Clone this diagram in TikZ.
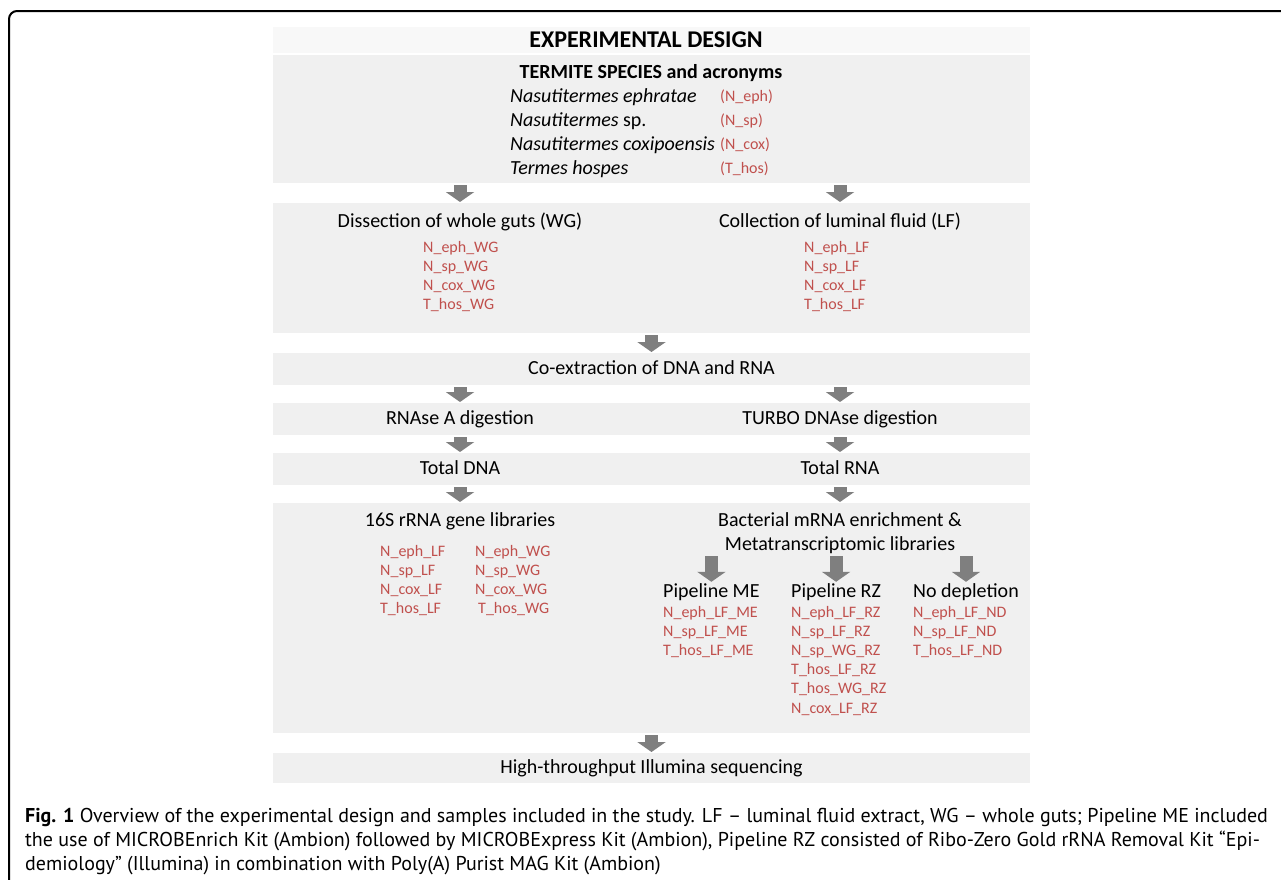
\documentclass[tikz,border=0pt]{standalone}
\usepackage{fontspec}
\setmainfont{Carlito}
\newfontfamily\capfont{PT Sans}
\usetikzlibrary{arrows.meta}
\definecolor{boxgrey}{HTML}{F0F0F0}
\definecolor{bandgrey}{HTML}{F8F8F8}
\definecolor{arrowgrey}{HTML}{7F7F7F}
\definecolor{samplered}{HTML}{C0504D}
\begin{document}
\begin{tikzpicture}[x=1pt,y=-1pt,line join=round,
	band/.style={fill=boxgrey,inner sep=0pt,minimum width=757pt,minimum height=#1,anchor=north},
	steptext/.style={font=\fontsize{20}{24}\selectfont,inner sep=0pt,text height=14pt,text depth=4pt},
	sample/.style={font=\fontsize{16}{19}\selectfont,text=samplered,inner sep=0pt,anchor=west,text height=11pt,text depth=3pt},
	flow/.style={draw=arrowgrey,line width=13pt,-{Triangle[width=28pt,length=10pt]},shorten <=2pt,shorten >=1pt},
	captext/.style={font=\capfont\fontsize{20}{24}\selectfont,inner sep=0pt,anchor=west,text height=14pt,text depth=5pt}]
	\useasboundingbox (0,0) rectangle (1281,879);
	\draw [line width=2pt,rounded corners=8pt] (1282,11) -- (9,11) -- (9,880);
	\node[band=26pt,fill=bandgrey] (titleband) at (651.5,27) {};
	\node[band=128pt] (species) at (651.5,55) {};
	\node[band=130pt] (guts) at (651.5,203) {};
	\node[band=32pt] (coext) at (651.5,353) {};
	\node[band=32pt] (digest) at (651.5,403) {};
	\node[band=32pt] (total) at (651.5,453) {};
	\node[band=230pt] (libs) at (651.5,503) {};
	\node[band=30pt] (seq) at (651.5,753) {};
	\coordinate (lcol) at (460,0);
	\coordinate (rcol) at (840,0);
	\coordinate (mcol) at (651.5,0);
	\node[inner sep=0pt,font=\bfseries\fontsize{24}{28}\selectfont] (title) at (646,40) {EXPERIMENTAL DESIGN};
	\node[steptext,font=\bfseries\fontsize{20}{24}\selectfont] (termites) at (651,73) {TERMITE SPECIES and acronyms};
	\foreach \nm/\ac [count=\i] in {{\textit{Nasutitermes ephratae}}/N\_eph,{\textit{Nasutitermes} sp.}/N\_sp,{\textit{Nasutitermes coxipoensis}}/N\_cox,{\textit{Termes hospes}}/T\_hos}{
		\node[steptext,anchor=west] (sp\i) at (510,{97+24*(\i-1)}) {\nm};
		\node[sample] (acr\i) at (720,{97+24*(\i-1)}) {(\ac)};
	}
	\draw [flow] (species.south -| lcol) -- (guts.north -| lcol);
	\draw [flow] (species.south -| rcol) -- (guts.north -| rcol);
	\node[steptext] (dissect) at (460,222) {Dissection of whole guts (WG)};
	\node[steptext] (collect) at (840,222) {Collection of luminal fluid (LF)};
	\foreach \s [count=\i] in {N\_eph,N\_sp,N\_cox,T\_hos}{
		\node[sample] (wg\i) at (423,{248+19.3*(\i-1)}) {\s\_WG};
		\node[sample] (lf\i) at (804,{248+19.3*(\i-1)}) {\s\_LF};
	}
	\draw [flow] (guts.south -| mcol) -- (coext.north -| mcol);
	\node[steptext] (coextract) at (651.5,369) {Co-extraction of DNA and RNA};
	\draw [flow] (coext.south -| lcol) -- (digest.north -| lcol);
	\draw [flow] (coext.south -| rcol) -- (digest.north -| rcol);
	\node[steptext] (rnase) at (460,419) {RNAse A digestion};
	\node[steptext] (turbo) at (840,419) {TURBO DNAse digestion};
	\draw [flow] (digest.south -| lcol) -- (total.north -| lcol);
	\draw [flow] (digest.south -| rcol) -- (total.north -| rcol);
	\node[steptext] (totaldna) at (460,469) {Total DNA};
	\node[steptext] (totalrna) at (840,469) {Total RNA};
	\draw [flow] (total.south -| lcol) -- (libs.north -| lcol);
	\draw [flow] (total.south -| rcol) -- (libs.north -| rcol);
	\node[steptext] (dnalib) at (460,521) {16S rRNA gene libraries};
	\node[steptext] (rnalib1) at (840,521) {Bacterial mRNA enrichment \&};
	\node[steptext] (rnalib2) at (840,545) {Metatranscriptomic libraries};
	\foreach \s/\dx [count=\i] in {N\_eph/0,N\_sp/0,N\_cox/0,T\_hos/3}{
		\node[sample] (dlf\i) at (380,{552+19.3*(\i-1)}) {\s\_LF};
		\node[sample] (dwg\i) at (475+\dx,{552+19.3*(\i-1)}) {\s\_WG};
	}
	\node[steptext,anchor=west] (pme) at (663,592) {Pipeline ME};
	\node[steptext,anchor=west] (prz) at (791,592) {Pipeline RZ};
	\node[steptext,anchor=west] (pnd) at (913,592) {No depletion};
	\draw [flow] (rnalib2.south -| pme.north) -- (pme.north);
	\draw [flow] (rnalib2.south -| prz.north) -- (prz.north);
	\draw [flow] (rnalib2.south -| pnd.north) -- (pnd.north);
	\foreach \s [count=\i] in {N\_eph,N\_sp,T\_hos}{
		\node[sample] (me\i) at (663,{613+19.2*(\i-1)}) {\s\_LF\_ME};
		\node[sample] (nd\i) at (913,{613+19.2*(\i-1)}) {\s\_LF\_ND};
	}
	\foreach \s [count=\i] in {N\_eph\_LF,N\_sp\_LF,N\_sp\_WG,T\_hos\_LF,T\_hos\_WG,N\_cox\_LF}
		\node[sample] (rz\i) at (791,{613+19.2*(\i-1)}) {\s\_RZ};
	\draw [flow] (libs.south -| mcol) -- (seq.north -| mcol);
	\node[steptext] (illumina) at (651.5,768) {High-throughput Illumina sequencing};
	\node[captext] (cap1) at (25,818) {\textbf{Fig. 1} Overview of the experimental design and samples included in the study. LF – luminal fluid extract, WG – whole guts; Pipeline ME included};
	\node[captext] (cap2) at (25,842) {the use of MICROBEnrich Kit (Ambion) followed by MICROBExpress Kit (Ambion), Pipeline RZ consisted of Ribo-Zero Gold rRNA Removal Kit “Epi-};
	\node[captext] (cap3) at (25,866) {demiology” (Illumina) in combination with Poly(A) Purist MAG Kit (Ambion)};
\end{tikzpicture}
\end{document}
